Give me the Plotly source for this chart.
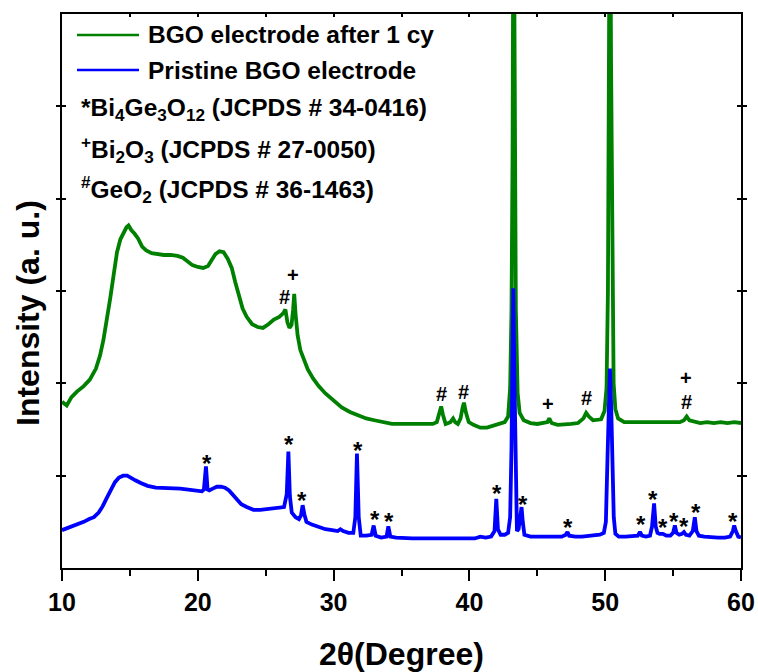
import plotly.graph_objects as go

# ---- data ----
green_x = [10.0, 10.35, 10.7, 11.1, 11.6, 12.05, 12.5, 12.8, 13.05, 13.3, 13.55, 13.8, 14.05, 14.3, 14.55,
           14.75, 14.9, 15.1, 15.35, 15.6, 15.9, 16.2, 16.6, 17.0, 17.5, 18.0, 18.5, 18.9, 19.2, 19.6,
           20.0, 20.4, 20.75, 21.0, 21.3, 21.6, 21.9, 22.2, 22.5, 22.75, 23.0, 23.3, 23.6, 24.0, 24.4,
           24.8, 25.2, 25.6, 26.0, 26.3, 26.45, 26.6, 26.75, 26.9, 27.02, 27.1, 27.2, 27.35, 27.55, 27.8,
           28.1, 28.5, 28.9, 29.4, 30.0, 30.6, 31.2, 31.8, 32.4, 33.0, 33.6, 34.3, 35.0, 35.8, 36.6,
           37.3, 37.6, 37.8, 37.92, 38.05, 38.25, 38.45, 38.6, 38.8, 38.95, 39.15, 39.35, 39.5, 39.6, 39.75,
           39.95, 40.3, 40.8, 41.3, 41.8, 42.3, 42.6, 42.85, 43.0, 43.1, 43.18, 43.25, 43.33, 43.42, 43.55,
           43.7, 44.0, 44.5, 45.0, 45.5, 45.75, 45.88, 46.05, 46.5, 47.0, 47.5, 48.0, 48.4, 48.6, 48.8,
           49.1, 49.4, 49.7, 49.95, 50.1, 50.2, 50.28, 50.35, 50.43, 50.52, 50.62, 50.75, 50.95, 51.4, 52.0,
           52.5, 53.0, 53.5, 54.0, 54.5, 55.0, 55.5, 55.8, 56.0, 56.2, 56.6, 57.0, 57.5, 58.0, 58.5,
           59.0, 59.5, 60.0]
green_y = [1.80, 1.76, 1.85, 1.91, 1.97, 2.04, 2.16, 2.30, 2.47, 2.68, 2.92, 3.17, 3.42, 3.56, 3.64,
           3.69, 3.71, 3.66, 3.62, 3.57, 3.48, 3.44, 3.41, 3.40, 3.39, 3.39, 3.38, 3.36, 3.32, 3.28,
           3.26, 3.25, 3.27, 3.33, 3.40, 3.43, 3.42, 3.35, 3.25, 3.10, 2.95, 2.81, 2.72, 2.64, 2.61,
           2.60, 2.64, 2.69, 2.72, 2.76, 2.80, 2.66, 2.60, 2.63, 2.80, 2.97, 2.75, 2.52, 2.36, 2.25,
           2.15, 2.05, 1.97, 1.89, 1.81, 1.74, 1.69, 1.65, 1.62, 1.60, 1.58, 1.56, 1.56, 1.56, 1.56,
           1.56, 1.58, 1.68, 1.75, 1.66, 1.56, 1.57, 1.58, 1.62, 1.58, 1.56, 1.62, 1.74, 1.79, 1.68,
           1.58, 1.55, 1.52, 1.52, 1.54, 1.56, 1.58, 1.64, 1.95, 2.8, 4.5, 8.0, 5.0, 2.8, 1.9,
           1.68, 1.60, 1.57, 1.56, 1.57, 1.58, 1.62, 1.57, 1.55, 1.55, 1.56, 1.57, 1.62, 1.68, 1.64,
           1.60, 1.60, 1.61, 1.70, 1.95, 3.0, 5.0, 8.0, 5.5, 3.0, 2.0, 1.72, 1.62, 1.58, 1.58,
           1.57, 1.57, 1.57, 1.57, 1.57, 1.57, 1.58, 1.60, 1.64, 1.60, 1.58, 1.57, 1.58, 1.57, 1.58,
           1.57, 1.58, 1.57]

blue_x = [10.0, 10.4, 10.8, 11.2, 11.6, 12.0, 12.35, 12.7, 13.0, 13.3, 13.6, 13.9, 14.2, 14.5, 14.8,
          15.1, 15.4, 15.8, 16.3, 16.9, 17.5, 18.1, 18.7, 19.3, 19.9, 20.3, 20.45, 20.6, 20.72, 20.85,
          21.1, 21.4, 21.7, 22.0, 22.3, 22.6, 22.9, 23.2, 23.6, 24.1, 24.6, 25.1, 25.6, 26.0, 26.35,
          26.55, 26.67, 26.78, 26.92, 27.2, 27.45, 27.6, 27.72, 27.85, 28.0, 28.4, 28.9, 29.4, 29.9, 30.3,
          30.5, 30.7, 31.1, 31.45, 31.6, 31.72, 31.85, 32.0, 32.4, 32.8, 32.95, 33.1, 33.5, 33.9, 34.03,
          34.18, 34.6, 35.2, 35.8, 36.4, 37.0, 37.6, 38.2, 38.8, 39.4, 39.9, 40.4, 40.8, 41.2, 41.6,
          41.85, 41.98, 42.1, 42.3, 42.6, 42.85, 43.0, 43.1, 43.17, 43.23, 43.3, 43.36, 43.42, 43.5, 43.62,
          43.75, 43.84, 43.93, 44.05, 44.5, 45.0, 45.4, 45.8, 46.3, 46.8, 47.1, 47.22, 47.35, 47.8, 48.3,
          48.8, 49.2, 49.6, 49.9, 50.05, 50.17, 50.27, 50.35, 50.45, 50.53, 50.63, 50.75, 51.0, 51.5, 52.0,
          52.4, 52.56, 52.7, 53.0, 53.3, 53.45, 53.6, 53.72, 53.85, 54.0, 54.25, 54.5, 54.8, 55.0, 55.13,
          55.25, 55.45, 55.65, 55.8, 55.95, 56.2, 56.45, 56.6, 56.72, 56.9, 57.3, 57.8, 58.3, 58.8, 59.2,
          59.4, 59.5, 59.62, 59.8, 60.0]
blue_y = [0.41, 0.43, 0.45, 0.48, 0.50, 0.53, 0.55, 0.60, 0.67, 0.76, 0.85, 0.93, 0.98, 1.00, 1.00,
          0.98, 0.95, 0.92, 0.89, 0.87, 0.87, 0.86, 0.86, 0.85, 0.84, 0.83, 0.85, 1.10, 0.85, 0.84,
          0.86, 0.88, 0.88, 0.87, 0.84, 0.79, 0.74, 0.69, 0.66, 0.63, 0.63, 0.64, 0.64, 0.65, 0.66,
          0.80, 1.26, 0.78, 0.60, 0.55, 0.53, 0.57, 0.68, 0.58, 0.50, 0.47, 0.44, 0.42, 0.41, 0.40,
          0.42, 0.40, 0.38, 0.38, 0.55, 1.24, 0.55, 0.35, 0.35, 0.36, 0.46, 0.35, 0.33, 0.34, 0.45,
          0.34, 0.33, 0.32, 0.32, 0.32, 0.32, 0.32, 0.31, 0.31, 0.31, 0.32, 0.32, 0.34, 0.33, 0.34,
          0.40, 0.75, 0.42, 0.36, 0.36, 0.38, 0.55, 1.3, 2.3, 3.03, 2.2, 1.6, 1.0, 0.40, 0.42,
          0.55, 0.66, 0.50, 0.36, 0.34, 0.34, 0.35, 0.34, 0.34, 0.34, 0.36, 0.39, 0.35, 0.34, 0.34,
          0.35, 0.36, 0.36, 0.38, 0.5, 1.2, 1.9, 2.16, 1.7, 1.2, 0.55, 0.37, 0.34, 0.34, 0.34,
          0.35, 0.39, 0.35, 0.34, 0.35, 0.45, 0.70, 0.45, 0.38, 0.37, 0.37, 0.35, 0.35, 0.38, 0.46,
          0.38, 0.36, 0.37, 0.39, 0.36, 0.35, 0.40, 0.55, 0.40, 0.35, 0.34, 0.33, 0.33, 0.33, 0.34,
          0.40, 0.46, 0.40, 0.34, 0.33]

# phase marks: (x, y, symbol)
green_mark_x = [26.35, 27.01, 37.91, 39.6, 45.79, 48.59, 55.95, 56.0]
green_mark_y = [2.95, 3.17, 1.90, 1.92, 1.78, 1.85, 2.06, 1.81]
green_mark_s = ["#", "+", "#", "#", "+", "#", "+", "#"]

blue_mark_x = [20.68, 26.71, 27.67, 31.8, 33.05, 34.08, 42.02, 43.94, 47.25, 52.64, 53.52, 54.26,
               55.06, 55.8, 56.68, 59.4]
blue_mark_y = [1.19, 1.39, 0.78, 1.33, 0.58, 0.56, 0.86, 0.74, 0.49, 0.52, 0.80, 0.49,
               0.56, 0.50, 0.65, 0.56]

series_names = ["BGO electrode after 1 cy", "Pristine BGO electrode"]
series_colors = ["#008000", "#0000FF"]
phase_labels = ["*Bi<sub>4</sub>Ge<sub>3</sub>O<sub>12</sub> (JCPDS # 34-0416)",
                "<sup>+</sup>Bi<sub>2</sub>O<sub>3</sub> (JCPDS # 27-0050)",
                "<sup>#</sup>GeO<sub>2</sub> (JCPDS # 36-1463)"]

x_ticks = [10, 20, 30, 40, 50, 60]
x_title = "2θ(Degree)"
y_title = "Intensity (a. u.)"

FONT = "Liberation Sans, Arial, sans-serif"

fig = go.Figure()
fig.add_trace(go.Scatter(x=green_x, y=green_y, mode="lines", name=series_names[0],
                         line=dict(color=series_colors[0], width=3.8), showlegend=False))
fig.add_trace(go.Scatter(x=blue_x, y=blue_y, mode="lines", name=series_names[1],
                         line=dict(color=series_colors[1], width=3.8), showlegend=False))
# invisible trace for top axis
fig.add_trace(go.Scatter(x=[10, 60], y=[0, 0], xaxis="x2", mode="lines",
                         line=dict(width=0), hoverinfo="skip", showlegend=False))

annotations = []
for xv, yv, s in zip(green_mark_x, green_mark_y, green_mark_s):
    annotations.append(dict(x=xv, y=yv, text=s, showarrow=False, xanchor="center", yanchor="middle",
                            font=dict(family=FONT, size=20, color="black", weight="bold"),
                            yshift=-1 if s == "#" else 0))
for xv, yv in zip(blue_mark_x, blue_mark_y):
    annotations.append(dict(x=xv, y=yv, text="*", showarrow=False, xanchor="center", yanchor="middle",
                            font=dict(family=FONT, size=24, color="black", weight="bold"),
                            yshift=-5))

# manual legend (page pixel positions converted to paper coords; plot area spans
# page px 62..741 horizontally and 14..568 vertically)
def px2paper_x(px):
    return (px - 62) / 679.0

def px2paper_y(py):
    return (568 - py) / 554.0

shapes = []
for i, (nm, col) in enumerate(zip(series_names, series_colors)):
    yy = px2paper_y(35 + 35 * i)
    shapes.append(dict(type="line", xref="paper", yref="paper", x0=px2paper_x(77), x1=px2paper_x(139),
                       y0=yy, y1=yy, line=dict(color=col, width=2.5)))
    annotations.append(dict(xref="paper", yref="paper", x=px2paper_x(146), y=yy, text=nm,
                            showarrow=False, xanchor="left", yanchor="middle",
                            font=dict(family=FONT, size=24.5, color="black", weight="bold")))
for i, lab in enumerate(phase_labels):
    yy = px2paper_y([109, 149, 190][i])
    annotations.append(dict(xref="paper", yref="paper", x=px2paper_x(79), y=yy, text=lab,
                            showarrow=False, xanchor="left", yanchor="middle",
                            font=dict(family=FONT, size=24.5, color="black", weight="bold")))

# axis titles
annotations.append(dict(xref="paper", yref="paper", x=px2paper_x(401), y=px2paper_y(654),
                        text=x_title, showarrow=False, xanchor="center", yanchor="middle",
                        font=dict(family=FONT, size=32, color="black", weight="bold")))
annotations.append(dict(xref="paper", yref="paper", x=px2paper_x(28), y=px2paper_y(313),
                        text=y_title, showarrow=False, xanchor="center", yanchor="middle",
                        textangle=-90,
                        font=dict(family=FONT, size=32, color="black", weight="bold")))

fig.update_layout(
    width=758, height=672,
    margin=dict(l=62, r=17, t=14, b=104),
    paper_bgcolor="white", plot_bgcolor="white",
    showlegend=False,
    font=dict(family=FONT, color="black"),
    xaxis=dict(range=[10, 60], tickvals=x_ticks, ticktext=[str(v) for v in x_ticks],
               ticks="outside", ticklen=11, tickwidth=2, tickcolor="black",
               minor=dict(dtick=5, ticks="outside", ticklen=6, tickwidth=2, tickcolor="black"),
               showline=True, linecolor="black", linewidth=2, mirror=True,
               showgrid=False, zeroline=False, automargin=False,
               tickfont=dict(family=FONT, size=25, color="black", weight="bold")),
    xaxis2=dict(range=[10, 60], overlaying="x", side="top", anchor="y",
                tickvals=x_ticks, ticks="inside", ticklen=3, tickwidth=1.5, tickcolor="black",
                minor=dict(dtick=5, ticks="inside", ticklen=3, tickwidth=1.5, tickcolor="black"),
                showticklabels=False, showgrid=False, zeroline=False, showline=False,
                automargin=False),
    yaxis=dict(range=[0, 6], dtick=1, tick0=0, ticks="inside", ticklen=4, tickwidth=1.5,
               tickcolor="black", showticklabels=False, showline=True, linecolor="black",
               linewidth=2, mirror="allticks", showgrid=False, zeroline=False, automargin=False),
    annotations=annotations,
    shapes=shapes,
)

# remove the browser's default 8px body margin so the 758x672 figure fills the window exactly
fig.write_html("out.html", config={"displayModeBar": False},
               post_script="document.body.style.margin='0px';document.body.style.overflow='hidden';")
